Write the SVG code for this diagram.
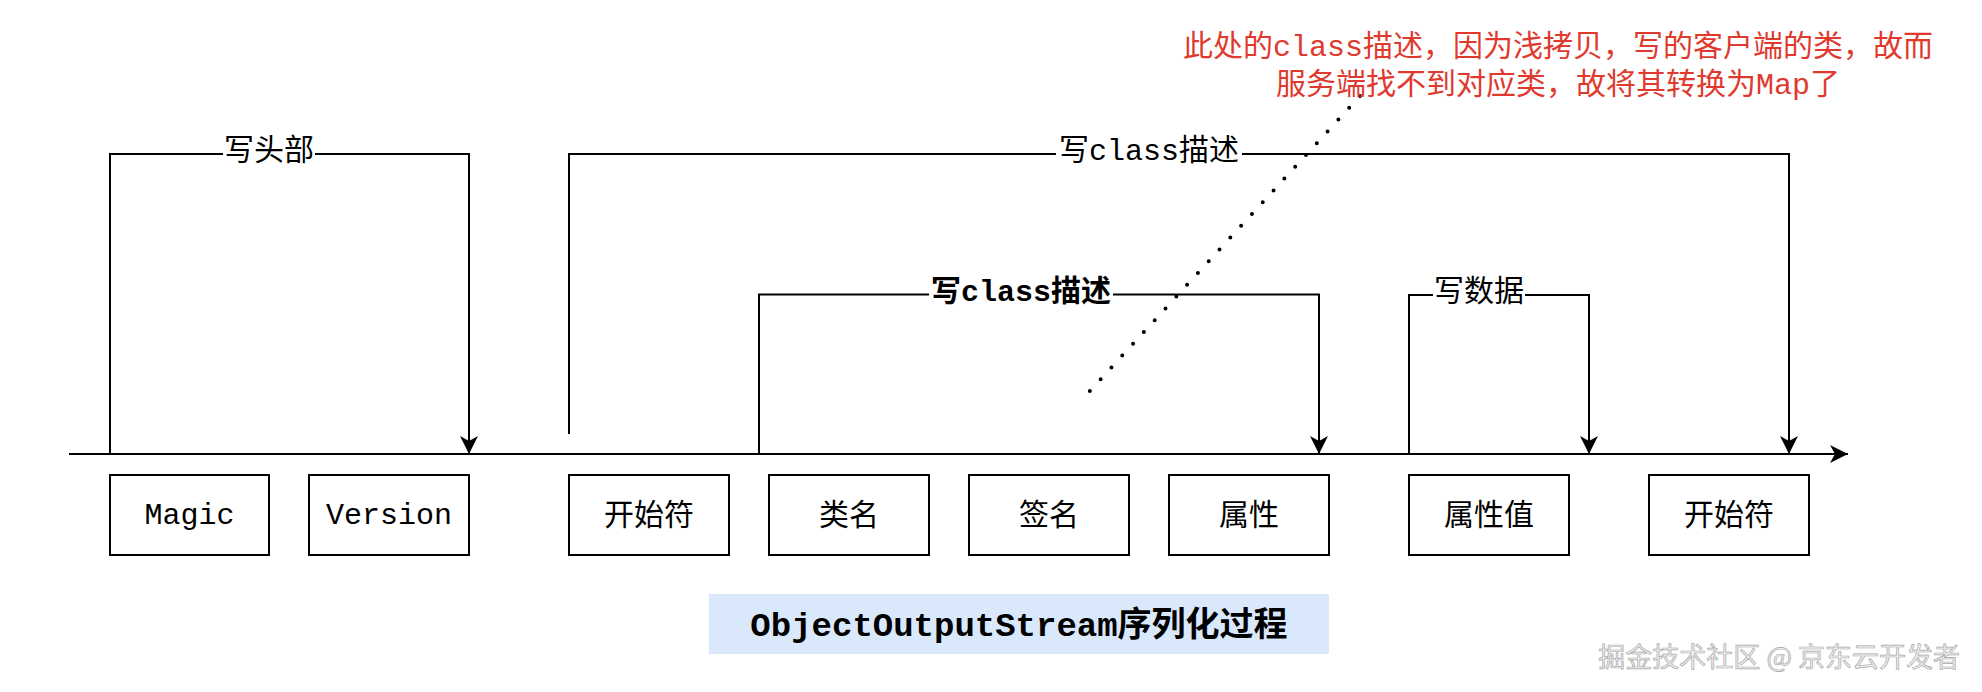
<svg xmlns="http://www.w3.org/2000/svg" width="1982" height="692" viewBox="0 0 1982 692">
<style>
.t{font-family:"Liberation Mono","Noto Sans CJK SC",monospace;font-size:30px;fill:#000;text-anchor:middle}
.b{font-weight:bold}
.box{fill:#fff;stroke:#000;stroke-width:2}
.ln{fill:none;stroke:#000;stroke-width:2}
.bg{fill:#fff}
.red{fill:#e0392e}
</style>
<defs>
<marker id="arr" markerUnits="userSpaceOnUse" viewBox="0 0 18 18" refX="18" refY="9" markerWidth="18" markerHeight="18" orient="auto">
<path d="M0,0 L18,9 L0,18 L5,9 Z" fill="#000"/>
</marker>
</defs>
<rect width="1982" height="692" fill="#fff"/>
<g id="connectors">
<path class="ln" d="M69,454 H1848" marker-end="url(#arr)"/>
<path class="ln" d="M110,454 V154 H469 V454" marker-end="url(#arr)"/>
<path class="ln" d="M569,434 V154 H1789 V454" marker-end="url(#arr)"/>
<path class="ln" d="M759,454 V294.5 H1319 V454" marker-end="url(#arr)"/>
<path class="ln" d="M1409,454 V295 H1589 V454" marker-end="url(#arr)"/>
<path d="M1360,96 L1088,393" fill="none" stroke="#000" stroke-width="4" stroke-linecap="round" stroke-dasharray="0 16"/>
</g>
<g id="label-header">
<rect class="bg" x="223" y="138" width="92" height="32"/>
<text class="t" x="269" y="160">写头部</text>
</g>
<g id="label-class-outer">
<rect class="bg" x="1056" y="138" width="186" height="32"/>
<text class="t" x="1149" y="160">写class描述</text>
</g>
<g id="label-class-inner">
<rect class="bg" x="929" y="279" width="184" height="32"/>
<text class="t b" x="1021" y="301">写class描述</text>
</g>
<g id="label-data">
<rect class="bg" x="1433" y="279" width="92" height="32"/>
<text class="t" x="1479" y="301">写数据</text>
</g>
<g id="node-magic"><rect class="box" x="110" y="475" width="159" height="80"/><text class="t" x="189.5" y="524">Magic</text></g>
<g id="node-version"><rect class="box" x="309" y="475" width="160" height="80"/><text class="t" x="389" y="524">Version</text></g>
<g id="node-start1"><rect class="box" x="569" y="475" width="160" height="80"/><text class="t" x="649" y="525">开始符</text></g>
<g id="node-classname"><rect class="box" x="769" y="475" width="160" height="80"/><text class="t" x="849" y="525">类名</text></g>
<g id="node-signature"><rect class="box" x="969" y="475" width="160" height="80"/><text class="t" x="1049" y="525">签名</text></g>
<g id="node-attr"><rect class="box" x="1169" y="475" width="160" height="80"/><text class="t" x="1249" y="525">属性</text></g>
<g id="node-attrvalue"><rect class="box" x="1409" y="475" width="160" height="80"/><text class="t" x="1489" y="525">属性值</text></g>
<g id="node-start2"><rect class="box" x="1649" y="475" width="160" height="80"/><text class="t" x="1729" y="525">开始符</text></g>
<g id="node-title">
<rect x="709" y="594" width="620" height="60" fill="#dae8fc"/>
<text class="t b" x="1019" y="636" style="font-size:34px">ObjectOutputStream序列化过程</text>
</g>
<g id="node-note">
<text class="t red" x="1558" y="56">此处的class描述，因为浅拷贝，写的客户端的类，故而</text>
<text class="t red" x="1558" y="94">服务端找不到对应类，故将其转换为Map了</text>
</g>
<g id="watermark">
<text x="1960" y="667" text-anchor="end" style="font-family:'Noto Sans CJK SC',sans-serif;font-size:27px" fill="#f0f0f0" stroke="#a8a8a8" stroke-width="0.7">掘金技术社区 @ 京东云开发者</text>
</g>
</svg>
